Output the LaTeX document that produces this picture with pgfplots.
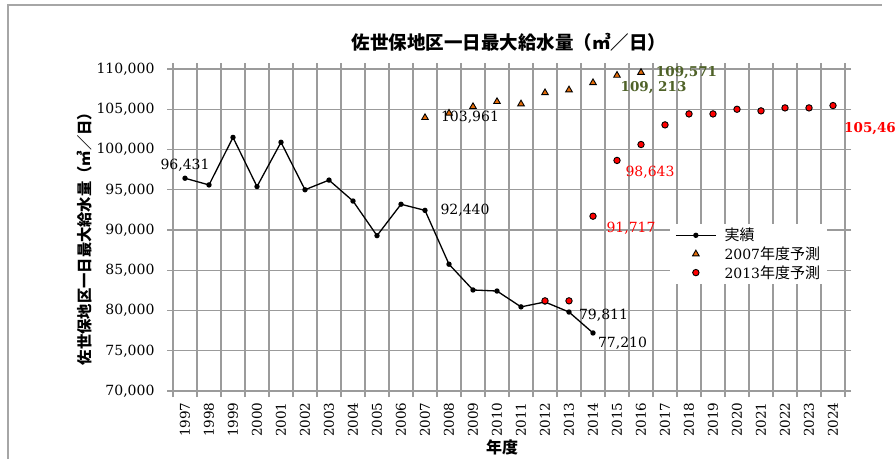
\documentclass[border=0pt]{standalone}
\usepackage{pgfplots}
\pgfplotsset{compat=1.18}
\usepackage{fontspec}
\setmainfont{DejaVu Serif}
\newfontfamily\cjk{Noto Sans CJK JP}
\definecolor{gridgray}{RGB}{155,155,155}
\definecolor{framegray}{RGB}{166,166,166}
\definecolor{orangeM}{RGB}{228,108,10}
\definecolor{greenL}{RGB}{79,98,40}
\begin{document}
\begin{tikzpicture}[x=1pt,y=1pt]
\draw[framegray, line width=2pt] (7.5,-459) -- (7.5,-5) -- (882,-5);
\node[font=\cjk\bfseries\fontsize{18.5}{21}\selectfont] at (509,-42) {佐世保地区一日最大給水量（㎥／日）};
\node[font=\cjk\bfseries\fontsize{15.3}{18}\selectfont, rotate=90] at (85,-235) {佐世保地区一日最大給水量（㎥／日）};
\node[font=\cjk\bfseries\fontsize{16}{19}\selectfont] at (502,-447) {年度};
\begin{axis}[
  at={(173pt,-391pt)}, anchor=south west,
  scale only axis, width=672pt, height=322pt,
  xmin=-0.5, xmax=27.5, ymin=70000, ymax=110000,
  clip=false,
  xtick={0,...,27},
  xticklabels={1997,1998,1999,2000,2001,2002,2003,2004,2005,2006,2007,2008,2009,2010,2011,2012,2013,2014,2015,2016,2017,2018,2019,2020,2021,2022,2023,2024},
  minor xtick={-0.5,0.5,...,27.5},
  major x tick style={draw=none},
  xminorgrids, ymajorgrids,
  ytick={70000,75000,...,110000},
  scaled y ticks=false,
  yticklabel style={/pgf/number format/.cd, fixed, 1000 sep={,}, assume math mode=true},
  grid style={gridgray, line width=1.2pt},
  minor grid style={gridgray, line width=1.2pt},
  axis line style={gridgray, line width=1.2pt},
  tick style={gridgray, line width=1.2pt},
  tick align=outside,
  major tick length=6pt, minor tick length=6pt,
  ticklabel style={font=\fontsize{14}{17}\selectfont},
  xticklabel style={rotate=90, anchor=east, font=\fontsize{13.5}{16}\selectfont},
  xticklabel shift=2pt,
  yticklabel shift=9pt,
  legend style={at={(0.7396,0.5185)}, anchor=north west, draw=none, fill=white,
    font=\fontsize{14}{17}\selectfont, row sep=0.5pt, inner xsep=5pt, inner ysep=2pt,
    /tikz/every odd column/.append style={column sep=6pt}},
  legend cell align=left,
  legend image code/.code={\draw[mark repeat=2,mark phase=2,#1] plot coordinates {(0pt,0pt) (20pt,0pt) (40pt,0pt)};},
]
\addplot[black, line width=1.3pt, mark=*, mark size=2pt] coordinates {
(0,96431) (1,95600) (2,101500) (3,95400) (4,100900) (5,95000) (6,96200) (7,93600)
(8,89300) (9,93200) (10,92440) (11,85750) (12,82550) (13,82420) (14,80450) (15,81060)
(16,79811) (17,77210)};
\addlegendentry{{\cjk\fontsize{15}{17}\selectfont 実績}}
\addplot[only marks, mark=triangle*, mark size=3.8pt, mark options={fill=orangeM, draw=black, line width=0.9pt}] coordinates {
(10,103961) (11,104510) (12,105330) (13,105950) (14,105660) (15,107050) (16,107400)
(17,108300) (18,109213) (19,109571)};
\addlegendentry{2007{\cjk\fontsize{15}{17}\selectfont 年度予測}}
\addplot[only marks, mark=*, mark size=3.2pt, mark options={fill=red, draw=black, line width=0.9pt}] coordinates {
(15,81200) (16,81200) (17,91717) (18,98643) (19,100620) (20,103060) (21,104420)
(22,104420) (23,105000) (24,104800) (25,105170) (26,105170) (27,105460)};
\addlegendentry{2013{\cjk\fontsize{15}{17}\selectfont 年度予測}}
\begin{scope}[every node/.style={font=\fontsize{14}{17}\selectfont, inner sep=0pt}]
\node[xshift=0pt, yshift=13pt] at (axis cs:0,96431) {96,431};
\node[xshift=40pt, yshift=0pt] at (axis cs:10,92440) {92,440};
\node[xshift=45pt, yshift=0pt] at (axis cs:10,103961) {103,961};
\node[xshift=34.5pt, yshift=-3pt] at (axis cs:16,79811) {79,811};
\node[xshift=29.5pt, yshift=-10pt] at (axis cs:17,77210) {77,210};
\node[red, xshift=38pt, yshift=-12pt] at (axis cs:17,91717) {91,717};
\node[red, xshift=33pt, yshift=-12pt] at (axis cs:18,98643) {98,643};
\node[greenL, font=\bfseries\fontsize{13.5}{16}\selectfont, xshift=45.5pt, yshift=0pt] at (axis cs:19,109571) {109,571};
\node[greenL, font=\bfseries\fontsize{13.5}{16}\selectfont, xshift=36.5pt, yshift=-12pt] at (axis cs:18,109213) {109,\ 213};
\node[red, font=\bfseries\fontsize{13.5}{16}\selectfont, anchor=west, xshift=11pt, yshift=-23pt] at (axis cs:27,105460) {105,46};
\end{scope}
\end{axis}
\pgfresetboundingbox
\path[use as bounding box] (0,0) rectangle (896,-459);
\end{tikzpicture}
\end{document}
